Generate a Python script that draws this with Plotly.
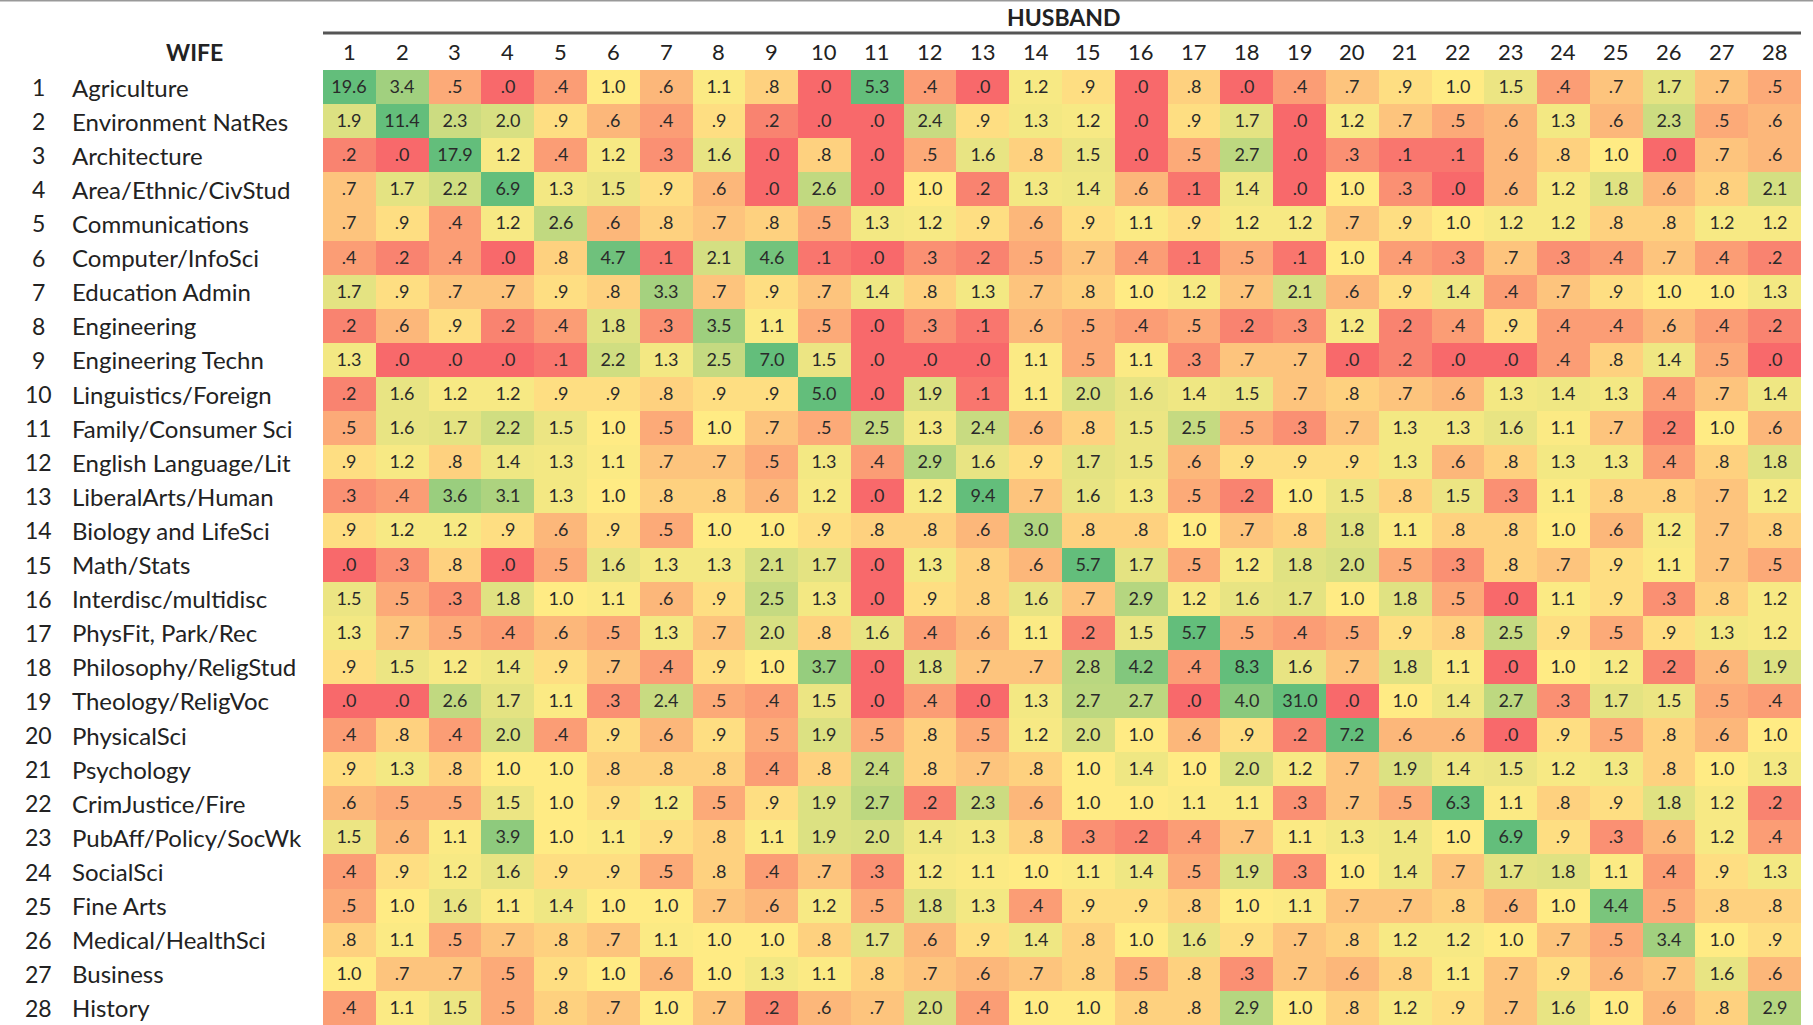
import plotly.graph_objects as go

majors = ["Agriculture", "Environment NatRes", "Architecture", "Area/Ethnic/CivStud",
          "Communications", "Computer/InfoSci", "Education Admin", "Engineering",
          "Engineering Techn", "Linguistics/Foreign", "Family/Consumer Sci",
          "English Language/Lit", "LiberalArts/Human", "Biology and LifeSci",
          "Math/Stats", "Interdisc/multidisc", "PhysFit, Park/Rec", "Philosophy/ReligStud",
          "Theology/ReligVoc", "PhysicalSci", "Psychology", "CrimJustice/Fire",
          "PubAff/Policy/SocWk", "SocialSci", "Fine Arts", "Medical/HealthSci",
          "Business", "History"]
col_numbers = list(range(1, 29))
row_numbers = list(range(1, 29))

row01 = [19.6, 3.4, .5, .0, .4, 1.0, .6, 1.1, .8, .0, 5.3, .4, .0, 1.2, .9, .0, .8, .0, .4, .7, .9, 1.0, 1.5, .4, .7, 1.7, .7, .5]
row02 = [1.9, 11.4, 2.3, 2.0, .9, .6, .4, .9, .2, .0, .0, 2.4, .9, 1.3, 1.2, .0, .9, 1.7, .0, 1.2, .7, .5, .6, 1.3, .6, 2.3, .5, .6]
row03 = [.2, .0, 17.9, 1.2, .4, 1.2, .3, 1.6, .0, .8, .0, .5, 1.6, .8, 1.5, .0, .5, 2.7, .0, .3, .1, .1, .6, .8, 1.0, .0, .7, .6]
row04 = [.7, 1.7, 2.2, 6.9, 1.3, 1.5, .9, .6, .0, 2.6, .0, 1.0, .2, 1.3, 1.4, .6, .1, 1.4, .0, 1.0, .3, .0, .6, 1.2, 1.8, .6, .8, 2.1]
row05 = [.7, .9, .4, 1.2, 2.6, .6, .8, .7, .8, .5, 1.3, 1.2, .9, .6, .9, 1.1, .9, 1.2, 1.2, .7, .9, 1.0, 1.2, 1.2, .8, .8, 1.2, 1.2]
row06 = [.4, .2, .4, .0, .8, 4.7, .1, 2.1, 4.6, .1, .0, .3, .2, .5, .7, .4, .1, .5, .1, 1.0, .4, .3, .7, .3, .4, .7, .4, .2]
row07 = [1.7, .9, .7, .7, .9, .8, 3.3, .7, .9, .7, 1.4, .8, 1.3, .7, .8, 1.0, 1.2, .7, 2.1, .6, .9, 1.4, .4, .7, .9, 1.0, 1.0, 1.3]
row08 = [.2, .6, .9, .2, .4, 1.8, .3, 3.5, 1.1, .5, .0, .3, .1, .6, .5, .4, .5, .2, .3, 1.2, .2, .4, .9, .4, .4, .6, .4, .2]
row09 = [1.3, .0, .0, .0, .1, 2.2, 1.3, 2.5, 7.0, 1.5, .0, .0, .0, 1.1, .5, 1.1, .3, .7, .7, .0, .2, .0, .0, .4, .8, 1.4, .5, .0]
row10 = [.2, 1.6, 1.2, 1.2, .9, .9, .8, .9, .9, 5.0, .0, 1.9, .1, 1.1, 2.0, 1.6, 1.4, 1.5, .7, .8, .7, .6, 1.3, 1.4, 1.3, .4, .7, 1.4]
row11 = [.5, 1.6, 1.7, 2.2, 1.5, 1.0, .5, 1.0, .7, .5, 2.5, 1.3, 2.4, .6, .8, 1.5, 2.5, .5, .3, .7, 1.3, 1.3, 1.6, 1.1, .7, .2, 1.0, .6]
row12 = [.9, 1.2, .8, 1.4, 1.3, 1.1, .7, .7, .5, 1.3, .4, 2.9, 1.6, .9, 1.7, 1.5, .6, .9, .9, .9, 1.3, .6, .8, 1.3, 1.3, .4, .8, 1.8]
row13 = [.3, .4, 3.6, 3.1, 1.3, 1.0, .8, .8, .6, 1.2, .0, 1.2, 9.4, .7, 1.6, 1.3, .5, .2, 1.0, 1.5, .8, 1.5, .3, 1.1, .8, .8, .7, 1.2]
row14 = [.9, 1.2, 1.2, .9, .6, .9, .5, 1.0, 1.0, .9, .8, .8, .6, 3.0, .8, .8, 1.0, .7, .8, 1.8, 1.1, .8, .8, 1.0, .6, 1.2, .7, .8]
row15 = [.0, .3, .8, .0, .5, 1.6, 1.3, 1.3, 2.1, 1.7, .0, 1.3, .8, .6, 5.7, 1.7, .5, 1.2, 1.8, 2.0, .5, .3, .8, .7, .9, 1.1, .7, .5]
row16 = [1.5, .5, .3, 1.8, 1.0, 1.1, .6, .9, 2.5, 1.3, .0, .9, .8, 1.6, .7, 2.9, 1.2, 1.6, 1.7, 1.0, 1.8, .5, .0, 1.1, .9, .3, .8, 1.2]
row17 = [1.3, .7, .5, .4, .6, .5, 1.3, .7, 2.0, .8, 1.6, .4, .6, 1.1, .2, 1.5, 5.7, .5, .4, .5, .9, .8, 2.5, .9, .5, .9, 1.3, 1.2]
row18 = [.9, 1.5, 1.2, 1.4, .9, .7, .4, .9, 1.0, 3.7, .0, 1.8, .7, .7, 2.8, 4.2, .4, 8.3, 1.6, .7, 1.8, 1.1, .0, 1.0, 1.2, .2, .6, 1.9]
row19 = [.0, .0, 2.6, 1.7, 1.1, .3, 2.4, .5, .4, 1.5, .0, .4, .0, 1.3, 2.7, 2.7, .0, 4.0, 31.0, .0, 1.0, 1.4, 2.7, .3, 1.7, 1.5, .5, .4]
row20 = [.4, .8, .4, 2.0, .4, .9, .6, .9, .5, 1.9, .5, .8, .5, 1.2, 2.0, 1.0, .6, .9, .2, 7.2, .6, .6, .0, .9, .5, .8, .6, 1.0]
row21 = [.9, 1.3, .8, 1.0, 1.0, .8, .8, .8, .4, .8, 2.4, .8, .7, .8, 1.0, 1.4, 1.0, 2.0, 1.2, .7, 1.9, 1.4, 1.5, 1.2, 1.3, .8, 1.0, 1.3]
row22 = [.6, .5, .5, 1.5, 1.0, .9, 1.2, .5, .9, 1.9, 2.7, .2, 2.3, .6, 1.0, 1.0, 1.1, 1.1, .3, .7, .5, 6.3, 1.1, .8, .9, 1.8, 1.2, .2]
row23 = [1.5, .6, 1.1, 3.9, 1.0, 1.1, .9, .8, 1.1, 1.9, 2.0, 1.4, 1.3, .8, .3, .2, .4, .7, 1.1, 1.3, 1.4, 1.0, 6.9, .9, .3, .6, 1.2, .4]
row24 = [.4, .9, 1.2, 1.6, .9, .9, .5, .8, .4, .7, .3, 1.2, 1.1, 1.0, 1.1, 1.4, .5, 1.9, .3, 1.0, 1.4, .7, 1.7, 1.8, 1.1, .4, .9, 1.3]
row25 = [.5, 1.0, 1.6, 1.1, 1.4, 1.0, 1.0, .7, .6, 1.2, .5, 1.8, 1.3, .4, .9, .9, .8, 1.0, 1.1, .7, .7, .8, .6, 1.0, 4.4, .5, .8, .8]
row26 = [.8, 1.1, .5, .7, .8, .7, 1.1, 1.0, 1.0, .8, 1.7, .6, .9, 1.4, .8, 1.0, 1.6, .9, .7, .8, 1.2, 1.2, 1.0, .7, .5, 3.4, 1.0, .9]
row27 = [1.0, .7, .7, .5, .9, 1.0, .6, 1.0, 1.3, 1.1, .8, .7, .6, .7, .8, .5, .8, .3, .7, .6, .8, 1.1, .7, .9, .6, .7, 1.6, .6]
row28 = [.4, 1.1, 1.5, .5, .8, .7, 1.0, .7, .2, .6, .7, 2.0, .4, 1.0, 1.0, .8, .8, 2.9, 1.0, .8, 1.2, .9, .7, 1.6, 1.0, .6, .8, 2.9]

z = [row01, row02, row03, row04, row05, row06, row07, row08, row09, row10,
     row11, row12, row13, row14, row15, row16, row17, row18, row19, row20,
     row21, row22, row23, row24, row25, row26, row27, row28]


def fmt(v):
    s = f"{v:.1f}"
    return s[1:] if s.startswith("0") else s


text = [[fmt(v) for v in r] for r in z]

# Plot-area geometry (pixels)
W, H = 1813, 1025
L, R, T, B = 323, 12, 70, 0
ph = H - T - B


def py(pix):  # pixel y -> paper y
    return (H - B - pix) / ph


def px(pix):  # pixel x -> paper x
    return (pix - L) / (W - L - R)


fig = go.Figure(go.Heatmap(
    z=z, x=col_numbers, y=row_numbers,
    text=text, texttemplate="%{text}",
    textfont=dict(family="Lato, Open Sans, sans-serif", size=18, color="#2a2a2a"),
    colorscale=[[0, "#F8696B"], [0.2, "#FFEB84"], [1, "#63BE7B"]],
    zmin=0, zmax=5, showscale=False, hoverinfo="skip",
))

ann = []
# column numbers
for c in col_numbers:
    ann.append(dict(x=c, y=py(52), xref="x", yref="paper", text=str(c), showarrow=False,
                    font=dict(family="Liberation Sans Narrow, Lato, sans-serif", size=22, color="#222"),
                    xanchor="center", yanchor="middle"))
# row numbers and labels
for r, name in zip(row_numbers, majors):
    ann.append(dict(x=px(38), y=r, xref="paper", yref="y", text=str(r), showarrow=False,
                    font=dict(family="Lato, sans-serif", size=23, color="#222"),
                    xanchor="center", yanchor="middle"))
    ann.append(dict(x=px(70), y=r, xref="paper", yref="y", text=name, showarrow=False,
                    font=dict(family="Lato, sans-serif", size=24, color="#222"),
                    xanchor="left", yanchor="middle"))
ann.append(dict(x=px(1063), y=py(17), xref="paper", yref="paper", text="<b>HUSBAND</b>",
                showarrow=False, font=dict(family="Liberation Sans Narrow, Lato, sans-serif", size=23, color="#222"),
                xanchor="center", yanchor="middle"))
ann.append(dict(x=px(194), y=py(52), xref="paper", yref="paper", text="<b>WIFE</b>",
                showarrow=False, font=dict(family="Liberation Sans Narrow, Lato, sans-serif", size=23, color="#222"),
                xanchor="center", yanchor="middle"))

shapes = [
    dict(type="line", xref="paper", yref="paper", x0=px(323), x1=px(1801), y0=py(33), y1=py(33),
         line=dict(color="#555", width=3)),
    dict(type="line", xref="paper", yref="paper", x0=px(0), x1=px(W), y0=py(0.8), y1=py(0.8),
         line=dict(color="#999", width=1.5)),
]

fig.update_layout(
    width=W, height=H,
    margin=dict(l=L, r=R, t=T, b=B, pad=0),
    paper_bgcolor="white", plot_bgcolor="white",
    xaxis=dict(visible=False, range=[0.5, 28.5]),
    yaxis=dict(visible=False, range=[28.5, 0.5]),
    annotations=ann, shapes=shapes,
)

fig.write_html("out.html", config={"displayModeBar": False},
               post_script="document.body.style.margin='0';document.body.style.overflow='hidden';")
